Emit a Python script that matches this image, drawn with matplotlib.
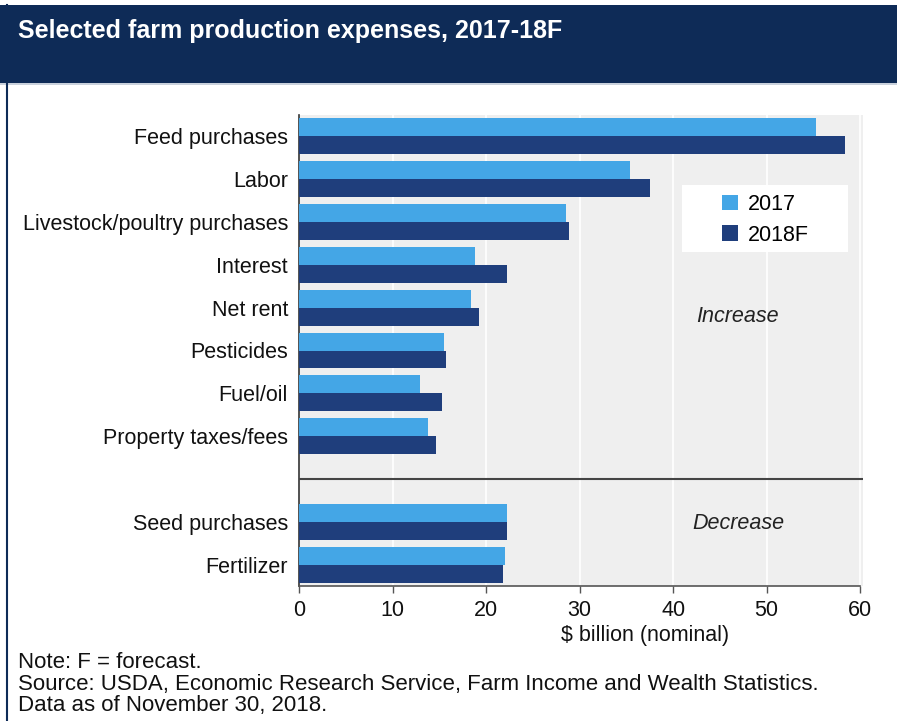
import numpy as np
import matplotlib.pyplot as plt
from matplotlib.patches import Rectangle

plt.rcParams['font.family'] = ['Liberation Sans', 'DejaVu Sans']

# Data ($ billion, nominal)
categories = ['Feed purchases', 'Labor', 'Livestock/poultry purchases', 'Interest',
              'Net rent', 'Pesticides', 'Fuel/oil', 'Property taxes/fees',
              'Seed purchases', 'Fertilizer']
vals_2017 = [55.3, 35.4, 28.5, 18.8, 18.4, 15.5, 12.9, 13.8, 22.2, 22.0]
vals_2018 = [58.4, 37.5, 28.9, 22.2, 19.2, 15.7, 15.3, 14.7, 22.2, 21.8]
series_names = ['2017', '2018F']
xticks = [0, 10, 20, 30, 40, 50, 60]

c2017 = '#44a6e6'
c2018 = '#1f3e7c'
navy = '#0e2b57'
fs = 15.5

fig = plt.figure(figsize=(8.97, 7.21), dpi=100)

# header band and left frame line
fig.patches.append(Rectangle((0, 1 - 83/721), 1, 78/721, transform=fig.transFigure,
                             facecolor=navy, edgecolor='none', zorder=0))
fig.patches.append(Rectangle((0, 1 - 85/721), 1, 2/721, transform=fig.transFigure,
                             facecolor='#c9d1dc', edgecolor='none', zorder=0))
fig.add_artist(plt.Line2D([7/897, 7/897], [0, 1 - 5/721], transform=fig.transFigure,
                          color=navy, lw=1.5))
fig.text(18/897, 1 - 31/721, 'Selected farm production expenses, 2017-18F',
         color='white', fontsize=18, fontweight='bold', va='center', ha='left')

ax = fig.add_axes([299/897, 1 - 586/721, (863 - 299)/897, (586 - 115)/721])
ax.set_facecolor('#efefef')

# slot 8 left empty for the increase/decrease divider
pos = np.array([0, 1, 2, 3, 4, 5, 6, 7, 9, 10])
h = 0.42
ax.barh(pos - h/2, vals_2017, height=h, color=c2017, label=series_names[0], zorder=3)
ax.barh(pos + h/2, vals_2018, height=h, color=c2018, label=series_names[1], zorder=3)

ax.set_ylim(10.5, -0.5)
ax.set_xlim(0, 60.3)
ax.set_yticks(pos)
ax.set_yticklabels(categories, fontsize=fs, color='#111111')
ax.set_xticks(xticks)
ax.set_xticklabels([str(t) for t in xticks], fontsize=fs, color='#111111')
ax.tick_params(axis='y', length=0, pad=8)
ax.tick_params(axis='x', length=5, width=1, color='#555555', pad=5)
ax.grid(axis='x', color='white', lw=1.2, zorder=1)
for s in ['top', 'right']:
    ax.spines[s].set_visible(False)
ax.spines['left'].set_color('#333333')
ax.spines['bottom'].set_color('#555555')
ax.spines['bottom'].set_bounds(0, 60)
ax.spines['left'].set_linewidth(1.2)
ax.spines['bottom'].set_linewidth(1.2)

ax.axhline(8, color='#444444', lw=1.5, zorder=4)

ax.text(46.9, 4.2, 'Increase', style='italic', fontsize=fs, color='#222222',
        ha='center', va='center')
ax.text(47.0, 9.05, 'Decrease', style='italic', fontsize=fs, color='#222222',
        ha='center', va='center')

# white legend panel
ax.add_patch(Rectangle(((682 - 299)/564, 1 - (252 - 115)/471), (848 - 682)/564,
                       (252 - 185)/471, transform=ax.transAxes, facecolor='white',
                       edgecolor='none', zorder=5))
leg = ax.legend(loc='upper left', bbox_to_anchor=((722 - 299)/564, 1 - (194 - 115)/471),
                fontsize=fs, frameon=False, handlelength=0.75, handleheight=0.75,
                handletextpad=0.45, borderpad=0, borderaxespad=0, labelspacing=0.45)
leg.set_zorder(6)

fig.text(645/897, 1 - 635/721, '$ billion (nominal)', fontsize=fs, ha='center',
         va='center', color='#111111')

notes = ['Note: F = forecast.',
         'Source: USDA, Economic Research Service, Farm Income and Wealth Statistics.',
         'Data as of November 30, 2018.']
for i, line in enumerate(notes):
    fig.text(18/897, 1 - (663 + i*21.5)/721, line, fontsize=16, ha='left',
             va='center', color='#111111')

fig.savefig('out.png', dpi=100)
